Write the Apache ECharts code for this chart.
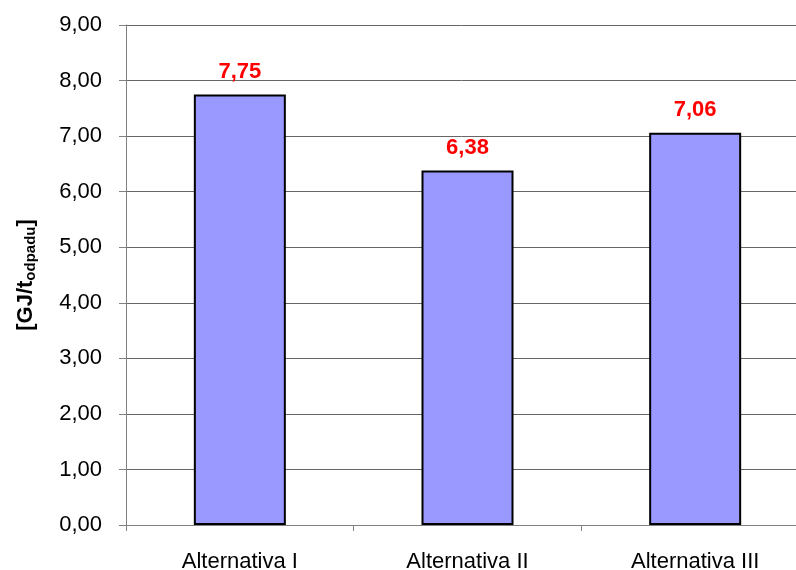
<!DOCTYPE html>
<html>
<head>
<meta charset="utf-8">
<script src="https://cdn.jsdelivr.net/npm/echarts@6/dist/echarts.min.js"></script>
<style>
  html, body { margin: 0; padding: 0; background: #fff; }
  #chart { width: 796px; height: 570px; }
</style>
</head>
<body>
<div id="chart"></div>
<script>
// Energy per tonne of waste for three alternatives
const categories = ['Alternativa I', 'Alternativa II', 'Alternativa III'];
const values = [7.75, 6.38, 7.06];
const yTicks = { min: 0, max: 9, interval: 1 };

const fmt = v => v.toFixed(2).replace('.', ',');
const FONT = 'Liberation Sans, Arial, sans-serif';

const chart = echarts.init(document.getElementById('chart'), null, { renderer: 'canvas' });
chart.setOption({
  animation: false,
  backgroundColor: '#ffffff',
  textStyle: { fontFamily: FONT },
  grid: {
    left: 126, top: 25, width: 683, height: 500,
    containLabel: false,
    outerBoundsMode: 'none'
  },
  xAxis: {
    type: 'category',
    data: categories,
    axisLine: { lineStyle: { color: '#808080', width: 1 } },
    axisTick: { show: true, length: 6, alignWithLabel: false, lineStyle: { color: '#808080' } },
    axisLabel: { color: '#000', fontSize: 22, margin: 26 }
  },
  yAxis: {
    type: 'value',
    min: yTicks.min,
    max: yTicks.max,
    interval: yTicks.interval,
    name: '{b|[GJ/t}{s|odpadu}{b|]}',
    nameLocation: 'middle',
    nameGap: 88,
    nameRotate: 90,
    nameTextStyle: {
      rich: {
        b: { fontSize: 22, fontWeight: 'bold', color: '#000', fontFamily: FONT },
        s: { fontSize: 15, fontWeight: 'bold', color: '#000', verticalAlign: 'bottom', padding: [9, 0, 0, 0], fontFamily: FONT }
      }
    },
    axisLine: { show: true, lineStyle: { color: '#808080', width: 1 } },
    axisTick: { show: true, length: 7, inside: false, lineStyle: { color: '#808080' } },
    axisLabel: { color: '#000', fontSize: 22, margin: 24, formatter: v => fmt(v) },
    splitLine: { show: true, lineStyle: { color: '#666', width: 1 } }
  },
  series: [{
    type: 'bar',
    data: values,
    barWidth: 92,
    itemStyle: { color: '#9999FF', borderColor: '#000', borderWidth: 2 },
    label: {
      show: true,
      position: 'top',
      distance: 12,
      color: '#FF0000',
      fontSize: 22,
      fontWeight: 'bold',
      formatter: p => fmt(p.value)
    }
  }]
});
</script>
</body>
</html>
